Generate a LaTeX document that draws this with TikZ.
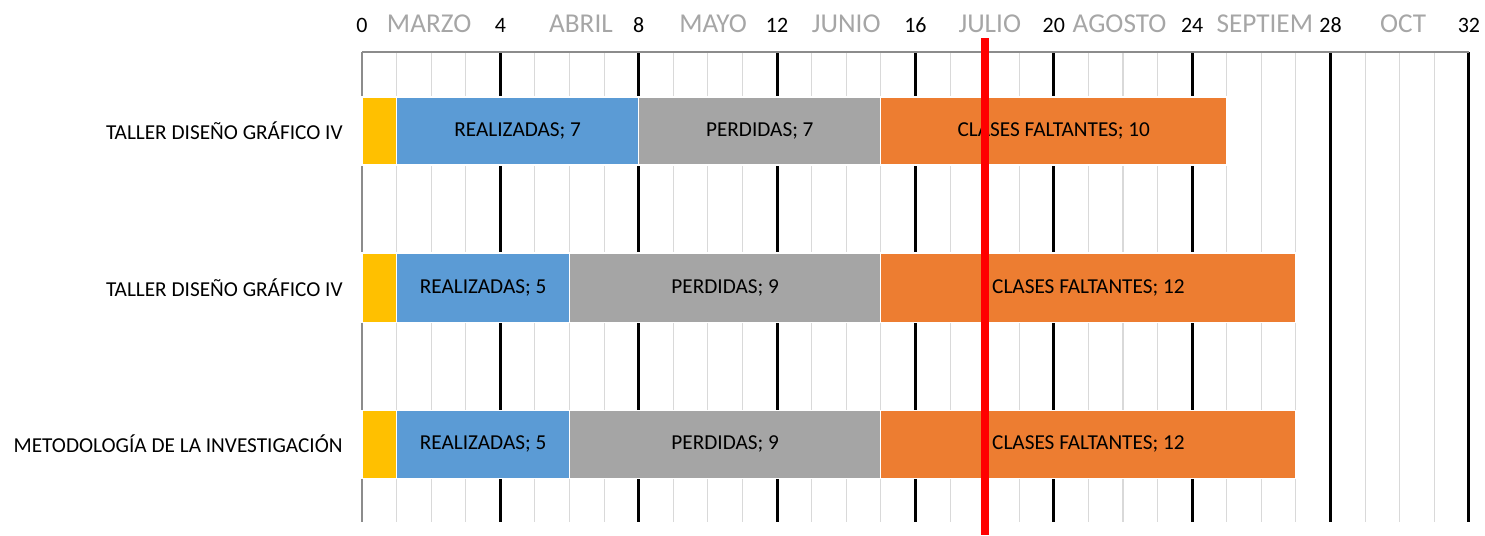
\documentclass[tikz,border=0pt]{standalone}
\usepackage{fontspec}
\setmainfont{Carlito}
\definecolor{amarillo}{HTML}{FFC000}
\definecolor{azul}{HTML}{5B9BD5}
\definecolor{gris}{HTML}{A5A5A5}
\definecolor{naranja}{HTML}{ED7D31}
\definecolor{mesgris}{HTML}{A6A6A6}
\definecolor{rejilla}{HTML}{D9D9D9}
\tikzset{
  barra/.style={draw=white, line width=0.6pt},
  etiqueta/.style={font=\fontsize{12.1}{14}\selectfont, inner sep=0pt},
  numero/.style={font=\fontsize{12.5}{14}\selectfont, inner sep=0pt, anchor=base},
  mes/.style={font=\fontsize{15.5}{18}\selectfont, text=mesgris, inner sep=0pt, anchor=base}
}
\begin{document}
\begin{tikzpicture}[x=0.6919cm, y=-0.02cm]
  \useasboundingbox (-10.466, 0) rectangle (32.466, 535);
  % rejilla
  \foreach \i in {1,...,31}
    \draw [rejilla, line width=0.6pt] (\i, 52) -- (\i, 522);
  \foreach \i in {4,8,...,32}
    \draw [black, line width=1.6pt] (\i, 52) -- (\i, 522);
  \draw [gray!90, line width=0.8pt] (0, 52) -- (32, 52);
  \draw [gray!90, line width=0.8pt] (0, 52) -- (0, 522);
  % barras
  \draw [barra, fill=amarillo] (0, 97) rectangle (1, 165);
  \draw [barra, fill=azul] (1, 97) rectangle (8, 165) node (r1) [midway, etiqueta] {REALIZADAS; 7};
  \draw [barra, fill=gris] (8, 97) rectangle (15, 165) node (p1) [midway, etiqueta] {PERDIDAS; 7};
  \draw [barra, fill=naranja] (15, 97) rectangle (25, 165) node (c1) [midway, etiqueta] {CLASES FALTANTES; 10};
  \draw [barra, fill=amarillo] (0, 253) rectangle (1, 322);
  \draw [barra, fill=azul] (1, 253) rectangle (6, 322) node (r2) [midway, etiqueta] {REALIZADAS; 5};
  \draw [barra, fill=gris] (6, 253) rectangle (15, 322) node (p2) [midway, etiqueta] {PERDIDAS; 9};
  \draw [barra, fill=naranja] (15, 253) rectangle (27, 322) node (c2) [midway, etiqueta] {CLASES FALTANTES; 12};
  \draw [barra, fill=amarillo] (0, 410) rectangle (1, 478);
  \draw [barra, fill=azul] (1, 410) rectangle (6, 478) node (r3) [midway, etiqueta] {REALIZADAS; 5};
  \draw [barra, fill=gris] (6, 410) rectangle (15, 478) node (p3) [midway, etiqueta] {PERDIDAS; 9};
  \draw [barra, fill=naranja] (15, 410) rectangle (27, 478) node (c3) [midway, etiqueta] {CLASES FALTANTES; 12};
  % materias
  \node (m1) [etiqueta, anchor=east] at (-0.55, 131) {TALLER DISEÑO GRÁFICO IV};
  \node (m2) [etiqueta, anchor=east] at (-0.55, 287.5) {TALLER DISEÑO GRÁFICO IV};
  \node (m3) [etiqueta, anchor=east] at (-0.55, 444) {METODOLOGÍA DE LA INVESTIGACIÓN};
  % eje
  \foreach \n in {0,4,...,32}
    \node (n\n) [numero] at (\n, 32) {\n};
  \node (marzo) [mes] at (1.94, 32) {MARZO};
  \node (abril) [mes] at (6.33, 32) {ABRIL};
  \node (mayo) [mes] at (10.15, 32) {MAYO};
  \node (junio) [mes] at (14.0, 32) {JUNIO};
  \node (julio) [mes] at (18.15, 32) {JULIO};
  \node (agosto) [mes] at (21.9, 32) {AGOSTO};
  \node (septiem) [mes] at (26.1, 32) {SEPTIEM};
  \node (oct) [mes] at (30.1, 32) {OCT};
  % hoy
  \coordinate (H) at (18, 38);
  \coordinate (HH) at (18, 535);
  \draw [red, line width=4.5pt] (H) -- (HH);
\end{tikzpicture}
\end{document}
